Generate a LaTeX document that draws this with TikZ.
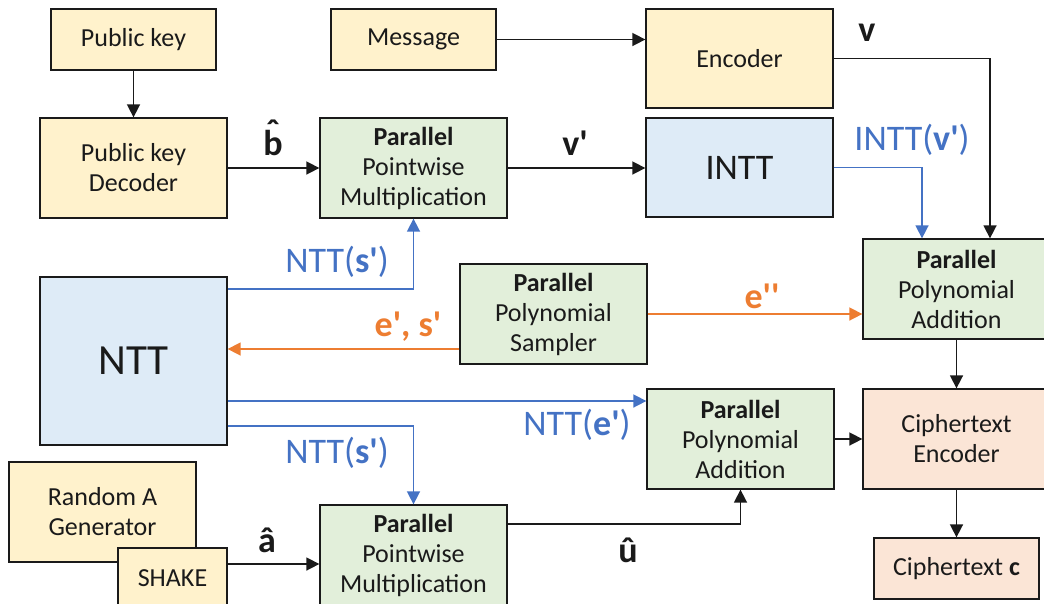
\documentclass[tikz,border=0pt]{standalone}
\usepackage{fontspec}
\setmainfont{Carlito}
\usetikzlibrary{arrows.meta}
\definecolor{fillY}{HTML}{FFF2CC}
\definecolor{fillG}{HTML}{E2EFDA}
\definecolor{fillB}{HTML}{DEEBF7}
\definecolor{fillO}{HTML}{FBE5D6}
\definecolor{lineB}{HTML}{4472C4}
\definecolor{lineO}{HTML}{ED7D31}
\definecolor{ink}{HTML}{1A1A1A}
\newcommand{\ap}{\textquotesingle}
% bold b with a circumflex set above it
\newcommand{\bhat}{\ooalign{\textbf{b}\cr\hidewidth\raisebox{0.32em}{\textbf{\char"02C6}}\hidewidth\cr}}
\begin{document}
\begin{tikzpicture}[x=1pt,y=-1pt,
  box/.style={draw=ink, line width=1.3pt, align=center, inner sep=0pt,
    text=ink, font=\fontsize{26}{30}\selectfont},
  wide/.style={box, minimum width=187pt, minimum height=100pt},
  small/.style={box, minimum width=165pt, minimum height=61pt},
  flow/.style={draw=ink, line width=1.6pt, -{Triangle[length=13pt,width=13pt]}},
  bflow/.style={draw=lineB, line width=1.6pt, -{Triangle[length=13pt,width=13pt]}},
  oflow/.style={draw=lineO, line width=1.6pt, -{Triangle[length=13pt,width=13pt]}},
  lbl/.style={inner sep=0pt, font=\fontsize{36}{40}\selectfont},
]
\useasboundingbox (0,0) rectangle (1044,603);

% boxes
\node[small, fill=fillY] (pk) at (133.5,39.5) {Public key};
\node[small, fill=fillY] (msg) at (413.5,39.5) {Message};
\node[wide, fill=fillY, minimum height=99pt] (enc) at (739.5,58.5) {Encoder};
\node[wide, fill=fillY] (dec) at (133.5,168) {Public key\\Decoder};
\node[wide, fill=fillG] (ppm1) at (413.5,168) {\textbf{Parallel}\\Pointwise\\Multiplication};
\node[wide, fill=fillB, minimum height=99pt, font=\fontsize{36}{40}\selectfont] (intt) at (739.5,167.5) {INTT};
\node[wide, fill=fillG] (ppa1) at (956.5,289) {\textbf{Parallel}\\Polynomial\\Addition};
\node[wide, fill=fillB, minimum height=168pt, font=\fontsize{43}{46}\selectfont] (ntt) at (133.5,361) {NTT};
\node[wide, fill=fillG] (samp) at (553.5,314) {\textbf{Parallel}\\Polynomial\\Sampler};
\node[wide, fill=fillG] (ppa2) at (740.5,439) {\textbf{Parallel}\\Polynomial\\Addition};
\node[wide, fill=fillO] (ce) at (956.5,439) {Ciphertext\\Encoder};
\node[small, fill=fillO] (ctc) at (956.5,568.5) {Ciphertext \textbf{c}};
\node[wide, fill=fillY] (rag) at (102.5,512) {Random A\\Generator};
\node[box, fill=fillY, minimum width=109pt, minimum height=61pt] (shake) at (172.5,578.5) {SHAKE};
\node[wide, fill=fillG] (ppm2) at (413.5,555) {\textbf{Parallel}\\Pointwise\\Multiplication};

% helper levels for the connectors
\coordinate (xv) at (990,0);
\coordinate (xi) at (922,0);
\coordinate (ys1) at (0,289);
\coordinate (yes) at (0,349);
\coordinate (ye) at (0,401);
\coordinate (ys2) at (0,426);
\coordinate (ya) at (0,564);
\coordinate (yu) at (0,524);

% black connectors
\draw[flow] (pk.south) -- (dec.north);
\draw[flow] (msg.east) -- (msg.east -| enc.west);
\draw[flow] (dec.east) -- (ppm1.west);
\draw[flow] (ppm1.east) -- (ppm1.east -| intt.west);
\draw[flow] (enc.east) -| (ppa1.north -| xv);
\draw[flow] (shake.east |- ya) -- (ppm2.west |- ya);
\draw[flow] (ppm2.east |- yu) -| (ppa2.south);
\draw[flow] (ppa2.east) -- (ce.west);
\draw[flow] (ppa1.south) -- (ce.north);
\draw[flow] (ce.south) -- (ctc.north);

% blue connectors
\draw[bflow] (intt.east) -| (ppa1.north -| xi);
\draw[bflow] (ntt.east |- ys1) -| (ppm1.south);
\draw[bflow] (ntt.east |- ye) -- (ppa2.west |- ye);
\draw[bflow] (ntt.east |- ys2) -| (ppm2.north);

% orange connectors
\draw[oflow] (samp.east) -- (samp.east -| ppa1.west);
\draw[oflow] (samp.west |- yes) -- (ntt.east |- yes);

% labels
\node[lbl, text=ink] (lb) at (273,143) {\bhat};
\node[lbl, text=ink] (lvp) at (575,143) {\textbf{v\ap}};
\node[lbl, text=ink] (lv) at (867,33) {\textbf{v}};
\node[lbl, text=lineB] (linttv) at (912,140) {INTT(\textbf{v\ap})};
\node[lbl, text=lineB] (lns1) at (337,262) {NTT(\textbf{s\ap})};
\node[lbl, text=lineO] (le2) at (762,296) {\textbf{e\ap\ap}};
\node[lbl, text=lineO] (les) at (408,327) {\textbf{e\ap, s\ap}};
\node[lbl, text=lineB] (lne) at (577,425) {NTT(\textbf{e\ap})};
\node[lbl, text=lineB] (lns2) at (337,453) {NTT(\textbf{s\ap})};
\node[lbl, text=ink] (la) at (267,540) {\textbf{â}};
\node[lbl, text=ink] (lu) at (628,550) {\textbf{û}};
\end{tikzpicture}
\end{document}
